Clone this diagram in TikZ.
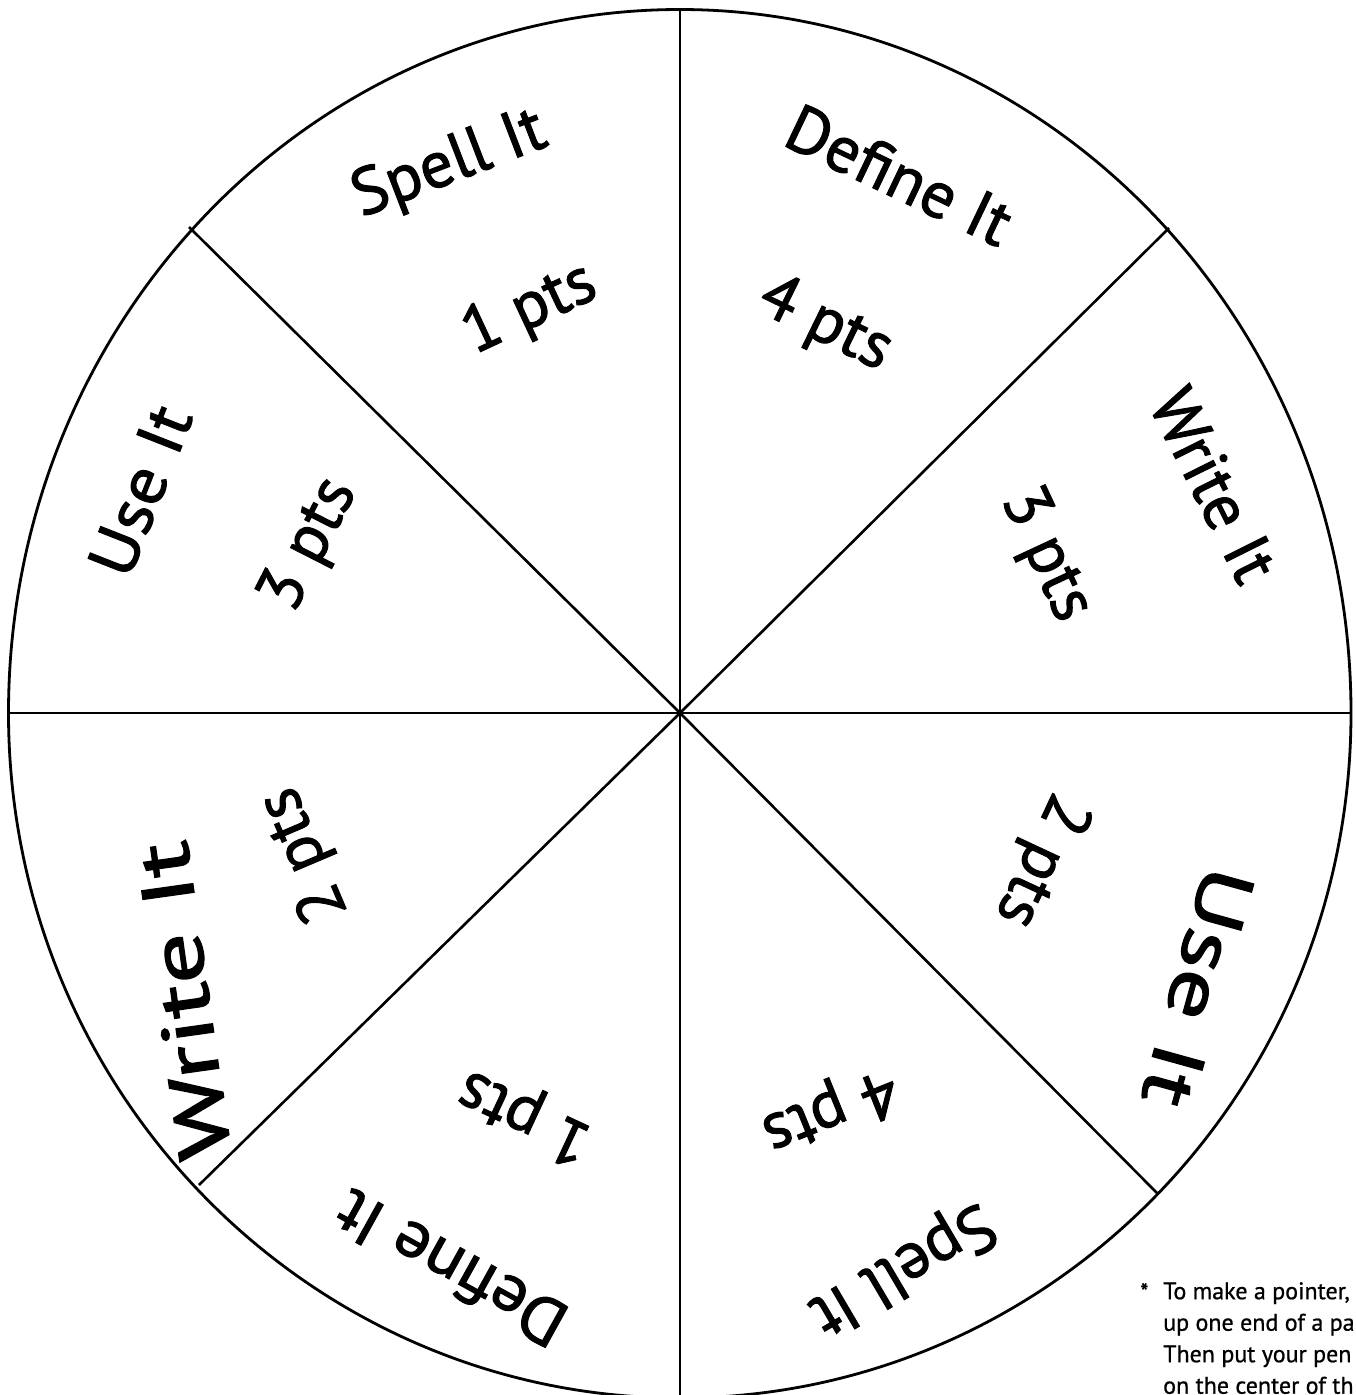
\documentclass[tikz,border=0pt]{standalone}
\usepackage{graphicx}
\usepackage{fontspec}
\setmainfont{PT Sans}
\newfontfamily\labfont{PT Sans}[FakeBold=1.5]
\newfontfamily\notefont{PT Sans}[FakeBold=0.8]
\usetikzlibrary{calc}
\begin{document}
\begin{tikzpicture}[x=1pt,y=1pt,
  rim/.style={line width=2.8pt},
  spoke/.style={line width=2.6pt},
  lab/.style={font=\labfont\fontsize{66}{72}\selectfont, inner sep=0pt, anchor=center},
  note/.style={font=\notefont\fontsize{24}{31.5}\selectfont, align=left, anchor=north west, inner sep=0pt}]
\useasboundingbox (0,0) rectangle (1356,-1395);
\clip (0,0) rectangle (1356,-1395);
\coordinate (O) at (680,-713);
\coordinate (T) at (680,-9.5);
\coordinate (B) at (680,-1400);
\coordinate (L) at (8.5,-713);
\coordinate (R) at (1351,-713);
\coordinate (UL) at (189,-227);
\coordinate (UR) at (1169,-228);
\coordinate (LL) at (199,-1185);
\coordinate (LR) at (1158,-1194);
\draw[rim] (L) arc[start angle=180, end angle=0, x radius=671.25, y radius=703.5]
  arc[start angle=0, end angle=-180, x radius=671.25, y radius=685] -- cycle;
\draw[spoke] (L) -- (R);
\draw[spoke] (T) -- (B);
\draw[spoke] (O) -- (UL);
\draw[spoke] (O) -- (UR);
\draw[spoke] (O) -- (LL);
\draw[spoke] (O) -- (LR);
% upper sectors
\node[lab, rotate=21]    (s1) at ($(O)+(112.8:594)$) {Spell It};
\node[lab, rotate=25]    (p1) at ($(O)+(110.4:430)$) {1 pts};
\node[lab, rotate=-25.5] (s2) at ($(O)+(67.8:581)$) {Define It};
\node[lab, rotate=-26]   (p2) at ($(O)+(69.5:414)$) {4 pts};
\node[lab, rotate=-63.5] (s3) at ($(O)+(23.1:581)$) {Write It};
\node[lab, rotate=-65]   (p3) at ($(O)+(23.4:398)$) {3 pts};
\node[lab, rotate=68.5]  (s4) at ($(O)+(157.6:584)$) {\scalebox{1.08}[1]{Use It}};
\node[lab, rotate=63]    (p4) at ($(O)+(155.6:406)$) {3 pts};
% lower sectors
\node[lab, rotate=98]    (s5) at ($(O)+(210.1:574)$) {\scalebox{1.55}[1.12]{Write It}};
\node[lab, rotate=113]   (p5) at ($(O)+(200.7:401)$) {2 pts};
\node[lab, rotate=151]   (s6) at ($(O)+(247.6:601)$) {\scalebox{1.05}[1]{Define It}};
\node[lab, rotate=155]   (p6) at ($(O)+(248.9:431)$) {1 pts};
\node[lab, rotate=210.5] (s7) at ($(O)+(291.8:597)$) {Spell It};
\node[lab, rotate=202]   (p7) at ($(O)+(290.7:424)$) {4 pts};
\node[lab, rotate=254.5] (s8) at ($(O)+(332.1:586)$) {\scalebox{1.5}[1.12]{Use It}};
\node[lab, rotate=245]   (p8) at ($(O)+(337.8:389)$) {2 pts};
% footnote
\node[note] (star) at (1140,-1283) {*};
\node[note] (fn) at (1163,-1282) {To make a pointer,\\up one end of a pa\\Then put your pen\\on the center of th};
\end{tikzpicture}
\end{document}
